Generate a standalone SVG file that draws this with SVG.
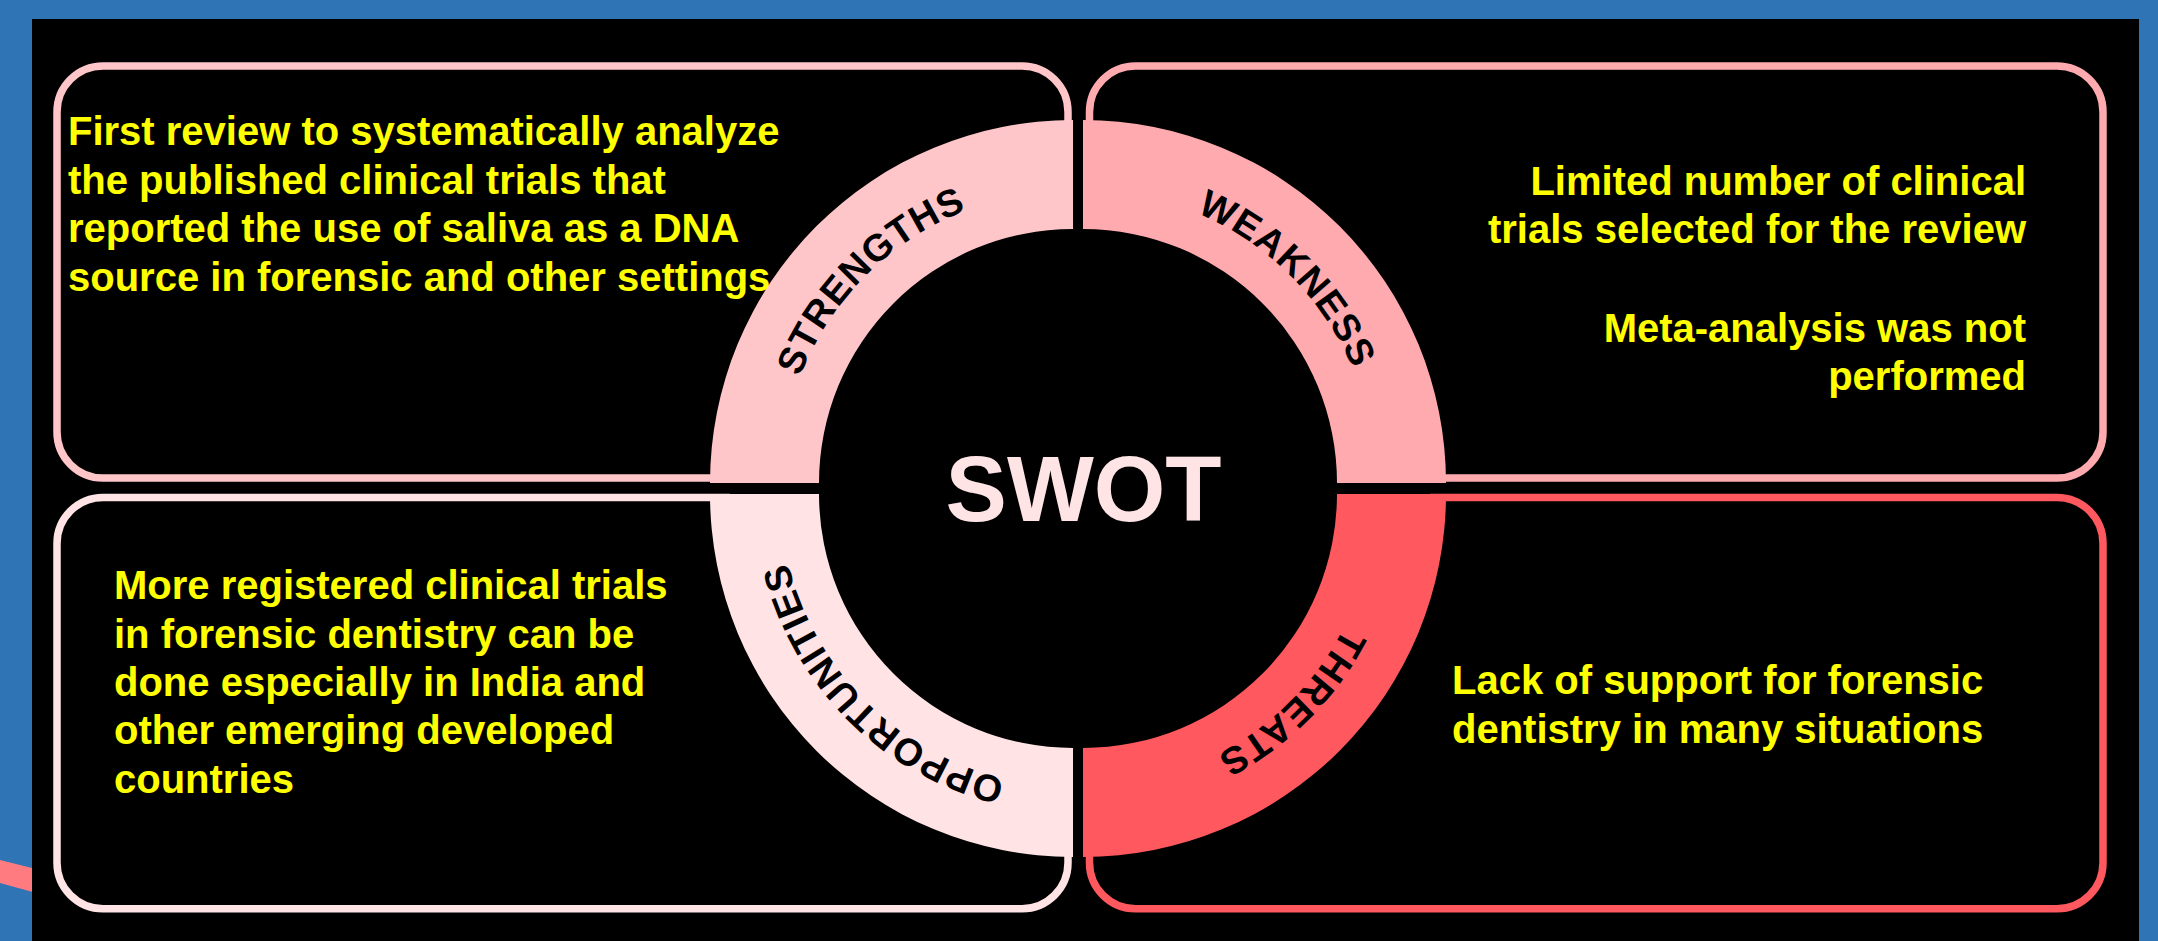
<svg xmlns="http://www.w3.org/2000/svg" width="2158" height="941" viewBox="0 0 2158 941">
<style>
.body{font-family:"Liberation Sans",Arial,sans-serif;font-weight:bold;font-size:40px;fill:#FFFF00}
.lbl{font-family:"Liberation Sans",Arial,sans-serif;font-weight:bold;font-size:38px;letter-spacing:1px;fill:#000}
.box{fill:none;stroke-width:7.5}
.title{font-family:"Liberation Sans",Arial,sans-serif;font-weight:bold;font-size:92px;fill:#FFE4E6}
</style>
<defs>
<path id="pS" d="M 780 483 A 293 293 0 0 1 1073 190"/>
<path id="pW" d="M 1083 190 A 293 293 0 0 1 1376 483"/>
<path id="pT" d="M 1376 494 A 293 293 0 0 1 1083 787"/>
<path id="pO" d="M 1073 787 A 293 293 0 0 1 780 494"/>
</defs>
<g id="frame">
<rect x="0" y="0" width="2158" height="941" fill="#2F74B5"/>
<polygon points="0,860 40,870 40,894 0,883" fill="#FF7B80"/>
<rect x="32" y="19" width="2107" height="922" fill="#000"/>
</g>
<g id="connectors"></g>
<g id="strengths">
<path class="box" d="M 730 478 H 103 A 46 46 0 0 1 57 432 V 112 A 46 46 0 0 1 103 66 H 1022 A 46 46 0 0 1 1068 112 V 140" stroke="#FFC6CA"/>
<path d="M 710 483 A 363 363 0 0 1 1073 120 L 1073 229 A 254 254 0 0 0 819 483 Z" fill="#FFC6CA"/>
<text class="lbl"><textPath href="#pS" startOffset="50%" text-anchor="middle">STRENGTHS</textPath></text>
<text class="body" x="68"><tspan x="68" y="145">First review to systematically analyze</tspan><tspan x="68" y="193.5">the published clinical trials that</tspan><tspan x="68" y="242">reported the use of saliva as a DNA</tspan><tspan x="68" y="290.5">source in forensic and other settings</tspan></text>
</g>
<g id="weakness">
<path class="box" d="M 1089.5 140 V 112 A 46 46 0 0 1 1135.5 66 H 2057 A 46 46 0 0 1 2103 112 V 432 A 46 46 0 0 1 2057 478 H 1430" stroke="#FFAAAE"/>
<path d="M 1083 120 A 363 363 0 0 1 1446 483 L 1337 483 A 254 254 0 0 0 1083 229 Z" fill="#FFAAAE"/>
<text class="lbl"><textPath href="#pW" startOffset="50%" text-anchor="middle">WEAKNESS</textPath></text>
<text class="body" text-anchor="end"><tspan x="2026" y="195">Limited number of clinical</tspan><tspan x="2026" y="243.3">trials selected for the review</tspan><tspan x="2026" y="341.5">Meta-analysis was not</tspan><tspan x="2026" y="390">performed</tspan></text>
</g>
<g id="opportunities">
<path class="box" d="M 730 497.5 H 103 A 46 46 0 0 0 57 543.5 V 862.7 A 46 46 0 0 0 103 908.7 H 1022 A 46 46 0 0 0 1068 862.7 V 845" stroke="#FFE3E5"/>
<path d="M 1073 857 A 363 363 0 0 1 710 494 L 819 494 A 254 254 0 0 0 1073 748 Z" fill="#FFE3E5"/>
<text class="lbl"><textPath href="#pO" startOffset="50%" text-anchor="middle">OPPORTUNITIES</textPath></text>
<text class="body"><tspan x="114" y="599.3">More registered clinical trials</tspan><tspan x="114" y="647.7">in forensic dentistry can be</tspan><tspan x="114" y="696">done especially in India and</tspan><tspan x="114" y="744.3">other emerging developed</tspan><tspan x="114" y="792.7">countries</tspan></text>
</g>
<g id="threats">
<path class="box" d="M 1089.5 845 V 862.7 A 46 46 0 0 0 1135.5 908.7 H 2057 A 46 46 0 0 0 2103 862.7 V 543.5 A 46 46 0 0 0 2057 497.5 H 1430" stroke="#FF585E"/>
<path d="M 1446 494 A 363 363 0 0 1 1083 857 L 1083 748 A 254 254 0 0 0 1337 494 Z" fill="#FF585E"/>
<text class="lbl"><textPath href="#pT" startOffset="50%" text-anchor="middle">THREATS</textPath></text>
<text class="body"><tspan x="1452" y="694.3">Lack of support for forensic</tspan><tspan x="1452" y="742.7">dentistry in many situations</tspan></text>
</g>
<g id="swot">
<text class="title" x="1083.5" y="521" text-anchor="middle">SWOT</text>
</g>
</svg>
